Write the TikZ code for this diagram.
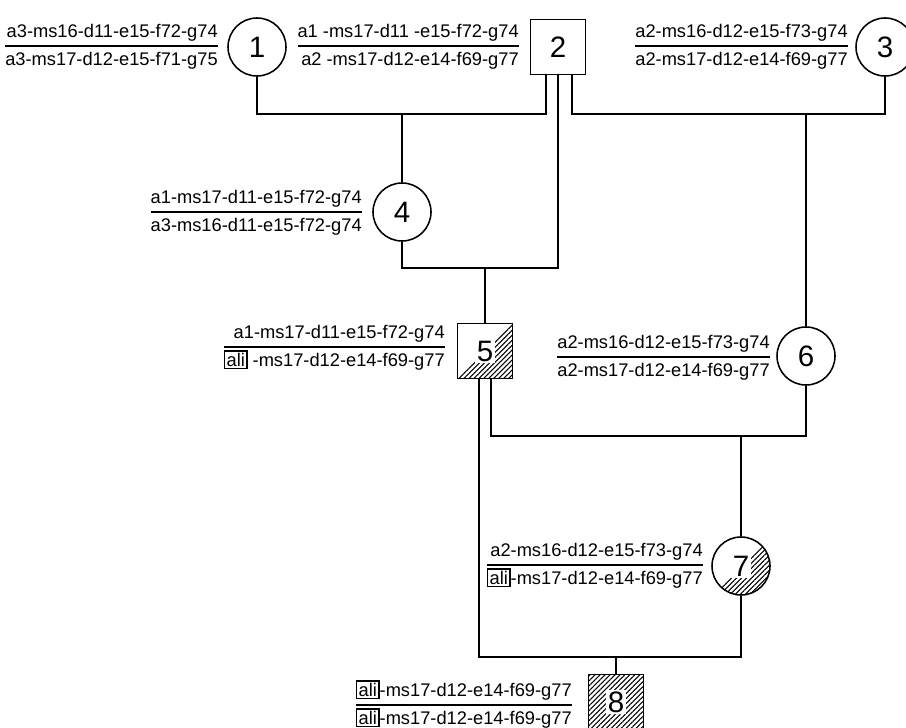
\documentclass[tikz,border=0pt]{standalone}
\usepackage{fontspec}
\setmainfont{Liberation Sans}
\usetikzlibrary{calc,patterns.meta}
\setlength{\fboxsep}{1pt}
\setlength{\fboxrule}{0.9pt}
\setlength{\arrayrulewidth}{1.1pt}
\renewcommand{\arraystretch}{1.25}
\newcommand{\geno}[2]{\begin{tabular}{@{}r@{}}#1\\\hline #2\end{tabular}}
\newcommand{\ali}{\fbox{ali}}

\begin{document}
\begin{tikzpicture}[
  x=0.025cm, y=0.025cm,
  font=\fontsize{13}{15}\selectfont,
  person/.style={draw, line width=1.1pt, inner sep=0pt, font=\fontsize{21}{23}\selectfont},
  male/.style={person, rectangle, minimum size=1.375cm},
  female/.style={person, circle, minimum size=1.45cm},
  genotype/.style={anchor=east, inner sep=0pt},
  hatch/.style={pattern={Lines[angle=45,distance=2.5pt,line width=0.75pt]}},
  halfhatch/.style={path picture={
    \fill[hatch] (path picture bounding box.south west) -- (path picture bounding box.south east)
      -- (path picture bounding box.north east) -- cycle;}},
  fullhatch/.style={path picture={
    \fill[hatch] (path picture bounding box.south west) rectangle (path picture bounding box.north east);}},
  link/.style={line width=1.1pt}
]
  \useasboundingbox (0,0) rectangle (906,-728);

  % Generation I: founders
  \node[female] (c1) at (257,-47) {1};
  \node[male] (s2) at (558,-47) {2};
  \node[female] (c3) at (885,-47) {3};
  \node[genotype] (g1) at (218,-46) {\geno{a3-ms16-d11-e15-f72-g74}{a3-ms17-d12-e15-f71-g75}};
  \node[genotype] (g2) at (519,-46) {\geno{a1 -ms17-d11 -e15-f72-g74}{a2 -ms17-d12-e14-f69-g77}};
  \node[genotype] (g3) at (848,-46) {\geno{a2-ms16-d12-e15-f73-g74}{a2-ms17-d12-e14-f69-g77}};

  % Generation II
  \node[female] (c4) at (402,-212) {4};
  \node[genotype] (g4) at (362,-212) {\geno{a1-ms17-d11-e15-f72-g74}{a3-ms16-d11-e15-f72-g74}};
  \node[male, halfhatch] (s5) at (485,-351) {\colorbox{white}{5}};
  \node[genotype] (g5) at (445,-347) {\geno{a1-ms17-d11-e15-f72-g74}{\ali{} -ms17-d12-e14-f69-g77}};
  \node[female] (c6) at (806,-356) {6};
  \node[genotype] (g6) at (770,-357) {\geno{a2-ms16-d12-e15-f73-g74}{a2-ms17-d12-e14-f69-g77}};

  % Generation III
  \node[female, halfhatch] (c7) at (741,-566) {\colorbox{white}{7}};
  \node[genotype] (g7) at (703,-565) {\geno{a2-ms16-d12-e15-f73-g74}{\ali-ms17-d12-e14-f69-g77}};
  \node[male, fullhatch] (s8) at (616,-702) {\colorbox{white}{8}};
  \node[genotype] (g8) at (572,-705) {\geno{\ali-ms17-d12-e14-f69-g77}{\ali-ms17-d12-e14-f69-g77}};

  % legs and mating points
  \coordinate (s2l) at ($(s2.south)+(-12,0)$);
  \coordinate (s2m) at ($(s2.south)+(0,0)$);
  \coordinate (s2r) at ($(s2.south)+(14,0)$);
  \coordinate (s5l) at ($(s5.south)+(-6,0)$);
  \coordinate (s5r) at ($(s5.south)+(6,0)$);
  \coordinate (m12) at (402,-114);
  \coordinate (m23) at (806,-114);
  \coordinate (m24) at (485,-268);
  \coordinate (m56) at (741,-436);
  \coordinate (m57) at (616,-657);

  % Pedigree lines
  \draw[link] (c1.south) |- (m12) -| (s2l);
  \draw[link] (m12) -- (c4.north);
  \draw[link] (s2r) |- (m23) -| (c3.south);
  \draw[link] (m23) -- (c6.north);
  \draw[link] (c4.south) |- (m24) -| (s2m);
  \draw[link] (m24) -- (s5.north);
  \draw[link] (s5r) |- (m56) -| (c6.south);
  \draw[link] (m56) -- (c7.north);
  \draw[link] (s5l) |- (m57) -| (c7.south);
  \draw[link] (m57) -- (s8.north);

\end{tikzpicture}
\end{document}
